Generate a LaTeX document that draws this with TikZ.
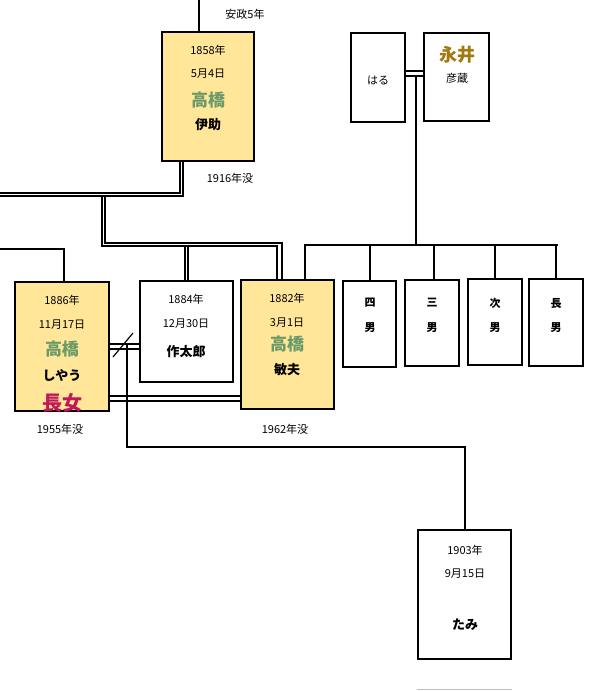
\documentclass[tikz,border=0pt]{standalone}
\usepackage{fontspec}
\setmainfont{Noto Sans CJK JP}
\newfontfamily\jpb{Noto Sans CJK JP}[BoldFont={* Bold}]
\begin{document}
\begin{tikzpicture}[x=1pt,y=-1pt,
 box/.style={draw=black,line width=1.2pt},
 yb/.style={box,fill=ylw},
 ln/.style={line width=1.2pt},
 t/.style={font=\fontsize{11}{12}\selectfont,inner sep=0pt},
 nm/.style={font=\fontsize{13}{14}\selectfont\bfseries,inner sep=0pt},
 gn/.style={font=\fontsize{17}{18}\selectfont\bfseries,text=grn,inner sep=0pt}]
\definecolor{ylw}{HTML}{FFE699}
\definecolor{grn}{HTML}{6A9A68}
\definecolor{mag}{HTML}{C0185A}
\definecolor{gold}{HTML}{A07A10}
\useasboundingbox (0,0) rectangle (600,691);
% boxes
\draw[yb] (162,32) rectangle (254,161);
\draw[yb] (15,282) rectangle (109,411);
\draw[box] (140,281) rectangle (233,382);
\draw[yb] (241,280) rectangle (334,409);
\draw[box] (418,530) rectangle (511,659);
\draw[box] (351,33) rectangle (405,122);
\draw[box] (424,33) rectangle (489,121);
\draw[box] (343,281) rectangle (396,367);
\draw[box] (405,280) rectangle (459,366);
\draw[box] (468,279) rectangle (522,365);
\draw[box] (529,279) rectangle (583,366);
% texts
\node[t] (a1) at (245,14) {安政5年};
\node[t] (a2) at (208,50) {1858年};
\node[t] (a3) at (208,74) {5月4日};
\node[gn] (a4) at (208,100) {高橋};
\node[nm] (a5) at (208,125) {伊助};
\node[t] (a6) at (230,178) {1916年没};
\node[t] (b1) at (62,300) {1886年};
\node[t] (b2) at (62,325) {11月17日};
\node[gn] (b3) at (62,349) {高橋};
\node[nm] (b4) at (62,375) {しやう};
\node[font=\fontsize{20}{22}\selectfont\bfseries,text=mag,inner sep=0pt] (b5) at (62,403) {長女};
\node[t] (b6) at (60,429) {1955年没};
\node[t] (c1) at (186,299) {1884年};
\node[t] (c2) at (186,324) {12月30日};
\node[nm] (c3) at (186,352) {作太郎};
\node[t] (d1) at (287,298) {1882年};
\node[t] (d2) at (287,323) {3月1日};
\node[gn] (d3) at (287,344) {高橋};
\node[nm] (d4) at (287,370) {敏夫};
\node[t] (d5) at (285,429) {1962年没};
\node[t] (e1) at (465,550) {1903年};
\node[t] (e2) at (465,574) {9月15日};
\node[nm] (e3) at (465,625) {たみ};
\node[t] (f1) at (378,80) {はる};
\node[font=\fontsize{18}{20}\selectfont\bfseries,text=gold,inner sep=0pt] (g1) at (457,55) {永井};
\node[t] (g2) at (457,78) {彦蔵};
\foreach \x/\a/\b [count=\i] in {370/四/男,432/三/男,495/次/男,556/長/男}{
 \node[nm,font=\fontsize{11}{12}\selectfont\bfseries] (k\i a) at (\x,303) {\a};
 \node[nm,font=\fontsize{11}{12}\selectfont\bfseries] (k\i b) at (\x,328) {\b};}
% lines
\draw[ln] (199,0) -- (199,32);
\draw[ln] (180,161) -- (180,193) -- (0,193);
\draw[ln] (183,161) -- (183,196) -- (0,196);
\draw[ln] (102,196) -- (102,246) -- (277,246) -- (277,280);
\draw[ln] (105,196) -- (105,243) -- (282,243) -- (282,280);
\draw[ln] (185,246) -- (185,281);
\draw[ln] (188,246) -- (188,281);
\draw[ln] (0,249) -- (64,249) -- (64,282);
\draw[ln] (109,344) -- (140,344);
\draw[ln] (109,349) -- (140,349);
\draw[ln] (113,357) -- (133,333);
\draw[ln] (109,396) -- (241,396);
\draw[ln] (109,401) -- (241,401);
\draw[ln] (127,345) -- (127,447) -- (465,447) -- (465,530);
\draw[ln] (405,71) -- (424,71);
\draw[ln] (405,76) -- (424,76);
\draw[ln] (416,76) -- (416,245);
\draw[ln] (305,280) -- (305,245) -- (558,245);
\foreach \x in {370,434,495,556} \draw[ln] (\x,245) -- (\x,280);
\draw[gray!50,line width=1pt] (417,689) -- (512,689);
\end{tikzpicture}
\end{document}
